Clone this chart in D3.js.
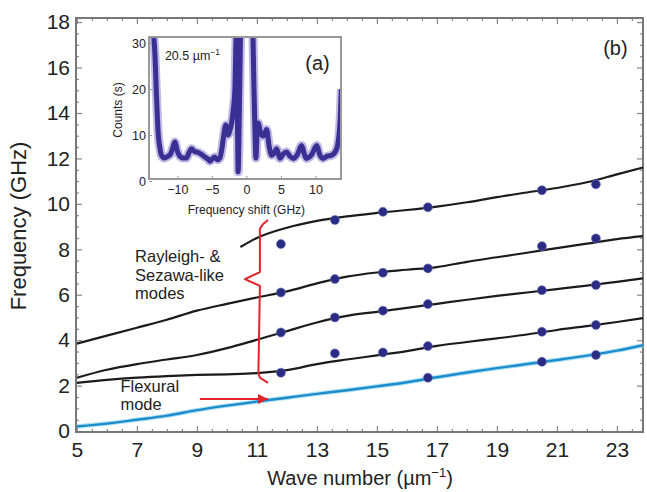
<!DOCTYPE html>
<html><head><meta charset="utf-8">
<script src="https://cdn.jsdelivr.net/npm/d3@7"></script>
<style>body{margin:0;background:#fff}svg{display:block}text{font-family:"Liberation Sans",Arial,sans-serif;fill:#222}</style>
</head><body><svg id="c" width="647" height="492"></svg>
<script>
// ---------- data ----------
const xTicks = [5,7,9,11,13,15,17,19,21,23];
const yTicks = [0,2,4,6,8,10,12,14,16,18];
const flexX = [5,6,7,8,9,10,11,12,13,14,15,16,17,18,19,20,21,22,23,23.87];
const flexY = [0.2,0.33,0.5,0.68,0.92,1.12,1.3,1.47,1.64,1.8,1.97,2.15,2.37,2.58,2.77,2.95,3.13,3.32,3.54,3.78];
const modeDX = [5,6,7,8,9,10,11,12,13,14,15,16,17,18,19,20,21,22,23,23.87];
const modeDY = [2.12,2.25,2.35,2.42,2.47,2.5,2.55,2.68,2.95,3.15,3.33,3.52,3.75,3.92,4.08,4.25,4.45,4.62,4.8,4.97];
const modeCX = [5,6,7,8,9,10,11,12,13,14,15,16,17,18,19,20,21,22,23,23.87];
const modeCY = [2.35,2.7,2.95,3.15,3.35,3.65,4.02,4.4,4.78,5.07,5.25,5.42,5.6,5.78,5.95,6.1,6.25,6.4,6.57,6.72];
const modeBX = [5,6,7,8,9,10,11,12,13,14,15,16,17,18,19,20,21,22,23,23.87];
const modeBY = [3.85,4.2,4.55,4.9,5.3,5.6,5.88,6.15,6.5,6.8,6.98,7.1,7.22,7.45,7.65,7.85,8.05,8.25,8.45,8.58];
const modeAX = [10.45,11,12,13,14,15,16,17,18,19,20,21,22,23,23.87];
const modeAY = [8.1,8.5,8.95,9.25,9.45,9.6,9.73,9.88,10.07,10.3,10.5,10.7,10.95,11.3,11.6];
const dotX = [11.8,13.6,15.2,16.7,20.5,22.3];
const dotRow1 = [8.23,9.29,9.65,9.85,10.6,10.86];
const dotRow2 = [6.1,6.69,6.97,7.16,8.14,8.48];
const dotRow3 = [4.34,5.0,5.3,5.59,6.2,6.43];
const dotRow4 = [2.57,3.42,3.46,3.74,4.37,4.67];
const dotRow5 = [null,null,null,2.35,3.05,3.35];
const braceX = [11.37,11.2,11.1,11.1,10.6,11.1,11.05,11.1,11.37];
const braceY = [9.29,9.1,8.9,7.0,6.69,6.39,2.56,2.35,2.12];
const arrowX = [9.1,11.37];
const arrowY = [1.41,1.41];
// inset spectrum
const insetXTicks = [-10,-5,0,5,10];
const insetYTicks = [0,10,20,30];
const shiftL = [-13.9,-13.5,-13.26,-13.0,-12.78,-12.5,-12.3,-11.9,-11.57,-11.0,-10.6,-10.36,-10.0,-9.64,-9.2,-8.67,-8.3,-7.94,-7.5,-6.98,-6.5,-6.0,-5.6,-5.29,-4.9,-4.57,-4.2,-3.84,-3.6,-3.36,-2.97,-2.64,-2.4,-2.14,-1.9,-1.67,-1.45,-1.3,-1.19,-1.05,-0.85];
const countsL = [32,32,28,18,10.5,7,5.6,5.0,5.2,5.8,7.5,8.5,6.5,5.4,5.0,5.0,6.2,7.0,6.4,6.2,5.8,5.2,4.8,4.3,4.9,5.2,4.6,5.0,6.5,9.0,12.2,10.0,11.0,12.6,15.5,19.6,32,14,2.0,12,32];
const shiftR = [0.95,1.1,1.25,1.38,1.55,1.71,2.05,2.43,2.7,2.93,3.3,3.65,4.0,4.38,4.86,5.3,5.8,6.3,6.8,7.4,8.0,8.4,8.7,9.4,10.2,10.6,11.1,11.7,12.35,13.07,13.55,13.75];
const countsR = [32,20,10.5,5,10.5,12.6,10.5,9.8,10.5,11.2,7.5,5.6,6.0,7.0,4.9,5.8,6.3,5.4,4.9,5.8,7.7,5.8,4.9,5.6,7.7,5.8,4.9,5.4,5.6,7.0,12.6,20];

// ---------- scales ----------
const svg = d3.select("#c");
const x = d3.scaleLinear().domain([4.97,23.87]).range([76,643]);
const y = d3.scaleLinear().domain([-0.04,18.18]).range([432,18]);
const [X0,X1] = x.range(), [Y0,Y1] = y.range();
const frameCol = "#777";

// minor ticks
const minorX = d3.range(5,23.9,0.5).filter(v=>!xTicks.includes(v));
const minorY = d3.range(0,18.1,0.5).filter(v=>!yTicks.includes(v));
function tickG(axis, tr){ const g = svg.append("g").attr("transform",tr).call(axis); g.select(".domain").remove(); g.selectAll("line").attr("stroke","#888").attr("stroke-width",1.2); return g;}
tickG(d3.axisBottom(x).tickValues(minorX).tickSize(-3).tickFormat(""),`translate(0,${Y0})`);
tickG(d3.axisTop(x).tickValues(minorX).tickSize(-3).tickFormat(""),`translate(0,${Y1})`);
tickG(d3.axisLeft(y).tickValues(minorY).tickSize(-3).tickFormat(""),`translate(${X0},0)`);
tickG(d3.axisRight(y).tickValues(minorY).tickSize(-3).tickFormat(""),`translate(${X1},0)`);
tickG(d3.axisTop(x).tickValues(xTicks).tickSize(-6).tickFormat(""),`translate(0,${Y1})`);
tickG(d3.axisRight(y).tickValues(yTicks).tickSize(-6).tickFormat(""),`translate(${X1},0)`);
const gx = tickG(d3.axisBottom(x).tickValues(xTicks).tickSize(-6).tickPadding(10),`translate(0,${Y0})`);
gx.selectAll("text").attr("font-size",21).attr("fill","#222");
const gy = tickG(d3.axisLeft(y).tickValues(yTicks).tickSize(-6).tickPadding(6),`translate(${X0},0)`);
gy.selectAll("text").attr("font-size",21).attr("fill","#222");
svg.selectAll(".tick text").attr("font-family",'"Liberation Sans",Arial,sans-serif');

// frame
svg.append("rect").attr("x",X0).attr("y",Y1).attr("width",X1-X0).attr("height",Y0-Y1)
  .attr("fill","none").attr("stroke",frameCol).attr("stroke-width",2);

// axis titles
svg.append("text").attr("transform","translate(26,226) rotate(-90)").attr("text-anchor","middle")
  .attr("font-size",22).text("Frequency (GHz)");
const xt = svg.append("text").attr("x",360).attr("y",485).attr("text-anchor","middle").attr("font-size",20);
xt.append("tspan").text("Wave number (\u00b5m");
xt.append("tspan").attr("dy",-8).attr("font-size",13).text("\u22121");
xt.append("tspan").attr("dy",8).text(")");

// curves
const line = d3.line().x(d=>x(d[0])).y(d=>y(d[1])).curve(d3.curveMonotoneX);
const zipp = (a,b)=>a.map((v,i)=>[v,b[i]]);
svg.append("path").attr("d",line(zipp(flexX,flexY))).attr("fill","none").attr("stroke","#9fdcf3").attr("stroke-width",4.5).attr("opacity",0.8);
svg.append("path").attr("d",line(zipp(flexX,flexY))).attr("fill","none").attr("stroke","#1d8ccc").attr("stroke-width",2.4);
[[modeDX,modeDY],[modeCX,modeCY],[modeBX,modeBY],[modeAX,modeAY]].forEach(([a,b])=>{
  svg.append("path").attr("d",line(zipp(a,b))).attr("fill","none").attr("stroke","#1b1b1b").attr("stroke-width",2.2);
});

// dots
[dotRow1,dotRow2,dotRow3,dotRow4,dotRow5].forEach(row=>{
  svg.append("g").selectAll("circle").data(zipp(dotX,row).filter(d=>d[1]!=null)).join("circle")
    .attr("cx",d=>x(d[0])).attr("cy",d=>y(d[1])).attr("r",4.5)
    .attr("fill","#2a2b82").attr("stroke","#6b6fbf").attr("stroke-opacity",0.6).attr("stroke-width",1);
});

// red brace and arrow
const lin = d3.line().x(d=>x(d[0])).y(d=>y(d[1]));
svg.append("path").attr("d",lin(zipp(braceX,braceY))).attr("fill","none").attr("stroke","#e3232a").attr("stroke-width",2).attr("stroke-linejoin","round");
svg.append("defs").append("marker").attr("id","ah").attr("viewBox","0 0 10 10").attr("refX",10).attr("refY",5)
  .attr("markerWidth",7.5).attr("markerHeight",5).attr("markerUnits","strokeWidth").attr("orient","auto")
  .append("path").attr("d","M0,0L10,5L0,10Z").attr("fill","#e3232a");
svg.append("path").attr("d",lin(zipp(arrowX,arrowY))).attr("stroke","#e3232a").attr("stroke-width",2).attr("marker-end","url(#ah)");

// annotations
const ann = svg.append("text").attr("font-size",16.5);
["Rayleigh- &","Sezawa-like","modes"].forEach((t,i)=>{
  ann.append("tspan").attr("x",x(6.94)).attr("y",y(7.44)+18.5*i).text(t);
});
const ann2 = svg.append("text").attr("font-size",16.5);
["Flexural","mode"].forEach((t,i)=>{
  ann2.append("tspan").attr("x",x(6.45)).attr("y",y(1.70)+17.5*i).text(t);
});
svg.append("text").attr("x",x(22.95)).attr("y",y(16.55)).attr("text-anchor","middle").attr("font-size",20).text("(b)");

// ---------- inset ----------
const ix = d3.scaleLinear().domain([-14.1,13.7]).range([149,341]);
const iy = d3.scaleLinear().domain([0,30]).range([181,43]);
const IX0=149, IX1=341, IY0=37, IY1=179;
const ins = svg.append("g");
ins.append("rect").attr("x",IX0).attr("y",IY0).attr("width",IX1-IX0).attr("height",IY1-IY0).attr("fill","#fff");
ins.append("clipPath").attr("id","ic").append("rect").attr("x",IX0).attr("y",IY0).attr("width",IX1-IX0).attr("height",IY1-IY0);
const iline = d3.line().x(d=>ix(d[0])).y(d=>iy(d[1])).curve(d3.curveMonotoneX);
const segs = [zipp(shiftL,countsL), zipp(shiftR,countsR)];
const ig = ins.append("g").attr("clip-path","url(#ic)");
segs.forEach(s=>{
  ig.append("path").attr("d",iline(s)).attr("fill","none").attr("stroke","#8a80cc").attr("stroke-width",9).attr("stroke-linejoin","round").attr("opacity",0.55);
  ig.append("path").attr("d",iline(s)).attr("fill","none").attr("stroke","#3a2f92").attr("stroke-width",5).attr("stroke-linejoin","round");
});
ins.append("rect").attr("x",IX0).attr("y",IY0).attr("width",IX1-IX0).attr("height",IY1-IY0)
  .attr("fill","none").attr("stroke","#999").attr("stroke-width",2);
const igx = ins.append("g").attr("transform",`translate(0,${IY1})`).call(d3.axisBottom(ix).tickValues(insetXTicks).tickSize(-3).tickPadding(6).tickFormat(d=>d<0?"\u2212"+Math.abs(d):d));
igx.select(".domain").remove();
igx.selectAll("line").attr("stroke","#999");
igx.selectAll("text").attr("font-size",12.5).attr("fill","#222").attr("font-family",'"Liberation Sans",Arial,sans-serif');
const igy = ins.append("g").attr("transform",`translate(${IX0},0)`).call(d3.axisLeft(iy).tickValues(insetYTicks).tickSize(-3).tickPadding(3));
igy.select(".domain").remove();
igy.selectAll("line").attr("stroke","#999");
igy.selectAll("text").attr("font-size",12.5).attr("fill","#222").attr("font-family",'"Liberation Sans",Arial,sans-serif');
ins.append("text").attr("x",ix(0)).attr("y",214).attr("text-anchor","middle").attr("font-size",12).text("Frequency shift (GHz)");
ins.append("text").attr("transform","translate(122,110) rotate(-90)").attr("text-anchor","middle").attr("font-size",12).text("Counts (s)");
const lab = ins.append("text").attr("x",ix(-11.8)).attr("y",iy(26.3)).attr("font-size",12.5);
lab.append("tspan").text("20.5 \u00b5m");
lab.append("tspan").attr("dy",-5).attr("font-size",8.5).text("\u22121");
ins.append("text").attr("x",ix(10.3)).attr("y",iy(24.1)).attr("text-anchor","middle").attr("font-size",20).text("(a)");
</script></body></html>
